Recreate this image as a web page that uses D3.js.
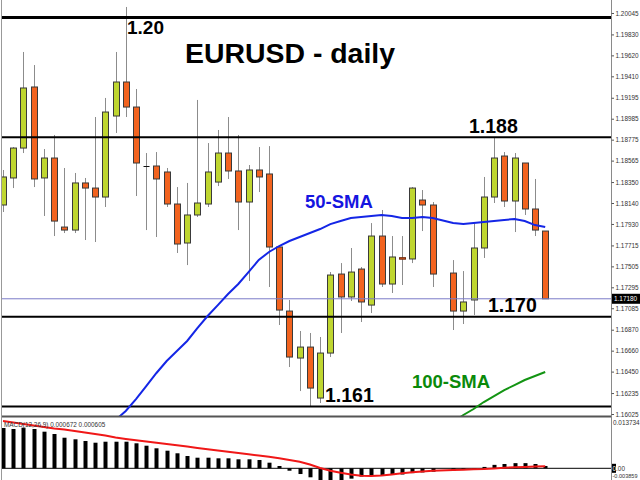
<!DOCTYPE html>
<html><head><meta charset="utf-8">
<script src="https://cdn.jsdelivr.net/npm/d3@7/dist/d3.min.js"></script>
<style>html,body{margin:0;padding:0;background:#fff;}svg{display:block;}</style>
</head><body><svg id="c" width="640" height="480"></svg>
<script>
// ---------- DATA (index = daily bar slot; slot 43 is empty) ----------
const openP  = [1.18120,1.18391,1.18691,1.19303,1.18391,1.18591,1.17899,1.17869,1.18341,1.18290,1.18200,1.19012,1.19353,1.19102,1.18511,1.18511,1.18451,1.18130,1.17739,1.18020,1.18130,1.18350,1.18641,1.18461,1.18150,1.18471,1.18431,1.17699,1.17057,1.16586,1.16696,1.16185,1.16636,1.17428,1.17198,1.17478,1.17117,1.17809,1.17328,1.17592,1.17579,1.18170,1.18120,null,1.17438,1.17057,1.17168,1.17689,1.18200,1.18611,1.18160,1.18541,1.18080,1.17859];
const highP  = [1.18471,1.18701,1.19654,1.19523,1.18681,1.18822,1.18491,1.18441,1.18391,1.19002,1.19193,1.19654,1.20105,1.19283,1.18641,1.18651,1.18491,1.18300,1.18341,1.19173,1.18741,1.18872,1.19002,1.18822,1.18521,1.18701,1.18711,1.17719,1.17168,1.16857,1.16837,1.16797,1.17448,1.17538,1.17689,1.17498,1.17939,1.18070,1.17809,1.17809,1.18300,1.18270,1.18150,null,1.17568,1.17458,1.17939,1.18401,1.18792,1.18651,1.18641,1.18541,1.18381,1.17859];
const lowP   = [1.18050,1.18290,1.18641,1.18300,1.18010,1.17809,1.17839,1.17839,1.17769,1.17749,1.18100,1.18842,1.19002,1.18210,1.17869,1.17799,1.18100,1.17639,1.17518,1.18000,1.18100,1.18310,1.18381,1.17869,1.17358,1.18250,1.17298,1.16917,1.16496,1.16255,1.16105,1.16135,1.16596,1.16837,1.17158,1.16947,1.17037,1.17298,1.17238,1.17318,1.17538,1.17859,1.17298,null,1.16867,1.16927,1.17017,1.17589,1.18140,1.18100,1.17849,1.18020,1.17809,1.17180];
const closeP = [1.18401,1.18691,1.19293,1.18381,1.18591,1.17959,1.17869,1.18341,1.18290,1.18200,1.19052,1.19353,1.19102,1.18541,1.18511,1.18381,1.18130,1.17729,1.18020,1.18140,1.18451,1.18641,1.18461,1.18150,1.18471,1.18401,1.17699,1.17067,1.16596,1.16696,1.16285,1.16636,1.17418,1.17198,1.17448,1.17148,1.17809,1.17328,1.17599,1.17586,1.18290,1.18120,1.17428,null,1.17057,1.17148,1.17689,1.18200,1.18591,1.18160,1.18591,1.18080,1.17869,1.17180];

const sma50 = [null,null,null,null,null,null,null,null,null,null,
  1.15844,1.15965,1.16055,1.16175,1.16305,1.16436,1.16556,1.16656,1.16757,1.16887,
  1.17007,1.17117,1.17228,1.17328,1.17448,1.17569,1.17649,1.17709,1.17759,1.17799,
  1.17839,1.17879,1.17929,1.17960,1.17990,1.18000,1.18010,1.18020,1.18010,1.17990,
  1.17990,1.18000,1.17990,null,1.17939,1.17929,1.17939,1.17949,1.17960,1.17970,
  1.17980,1.17960,1.17919,1.17899];
const sma100 = [null,null,null,null,null,null,null,null,null,null,
  null,null,null,null,null,null,null,null,null,null,
  null,null,null,null,null,null,null,null,null,null,
  null,null,null,null,null,null,null,null,null,null,
  null,null,null,null,1.15944,1.16015,1.16075,1.16145,1.16205,1.16265,
  1.16315,1.16366,1.16406,1.16446];

const macdHist = [0.01170,0.01141,0.01179,0.01141,0.01063,0.00996,0.00888,0.00842,0.00793,0.00743,
  0.00772,0.00772,0.00772,0.00726,0.00656,0.00581,0.00511,0.00436,0.00357,0.00308,
  0.00308,0.00290,0.00290,0.00261,0.00261,0.00241,0.00163,0.00067,-0.00070,-0.00166,
  -0.00261,-0.00340,-0.003859,-0.00350,-0.00300,-0.00240,-0.00210,-0.00200,-0.00190,-0.00180,
  -0.00140,-0.00120,-0.00100,null,-0.00070,-0.00040,-0.00020,0.00040,0.00100,0.00125,
  0.00150,0.00150,0.00125,0.000672];
const macdSignal = [0.013734,0.01330,0.01286,0.01243,0.01199,0.01156,0.01127,0.01083,0.01040,0.00996,
  0.00952,0.00894,0.00851,0.00813,0.00778,0.00740,0.00706,0.00668,0.00630,0.00589,
  0.00552,0.00517,0.00479,0.00444,0.00407,0.00372,0.00337,0.00293,0.00241,0.00192,
  0.00110,0.00009,-0.00073,-0.00128,-0.00180,-0.00218,-0.00224,-0.00209,-0.00180,-0.00145,
  -0.00116,-0.00093,-0.00073,null,-0.00049,-0.00041,-0.00029,-0.00020,-0.00003,0.00017,
  0.00029,0.00038,0.00049,0.000605];

const priceTicks = [1.20045,1.19830,1.19620,1.19410,1.19195,1.18985,1.18775,1.18565,1.18350,1.18140,
  1.17930,1.17715,1.17505,1.17295,1.17085,1.16870,1.16660,1.16450,1.16235,1.16025];
const macdTicks = [0.013734, 0, -0.003859];
const levels = [1.2000, 1.1880, 1.1700, 1.1610];
const levelLabels = ["1.20", "1.188", "1.170", "1.161"];
const currentPrice = 1.17180;
const title = "EURUSD - daily";
const macdLabel = "MACD(12,26,9) 0.000672 0.000605";

// ---------- CHART ----------
const svg = d3.select("#c");
const FONT = "'Liberation Sans', Arial, sans-serif";
const x = d3.scaleLinear().domain([0, 53]).range([3, 545.2]);
const y = d3.scaleLinear().domain([1.16005, 1.20175]).range([416, 0]);
const ym = d3.scaleLinear().domain([-0.003859, 0.013734]).range([481.6, 421]);
const AX = 611;

const defs = svg.append("defs");
defs.append("clipPath").attr("id","mainClip").append("rect").attr("x",2).attr("y",0).attr("width",AX-2).attr("height",416);
defs.append("clipPath").attr("id","macdClip").append("rect").attr("x",2).attr("y",418).attr("width",AX-2).attr("height",62);

const main = svg.append("g").attr("clip-path","url(#mainClip)");
const idx = d3.range(openP.length).filter(i => openP[i] != null);
const green = "#bfd630", orange = "#f2631f";

// candles
const cg = main.append("g");
idx.forEach(i => {
  const cx = Math.round(x(i));
  cg.append("line").attr("x1",cx+0.5).attr("x2",cx+0.5)
    .attr("y1",y(highP[i])).attr("y2",y(lowP[i]))
    .attr("stroke","#8c8c8c").attr("stroke-width",1);
  const o = openP[i], c = closeP[i];
  if (o === c) {
    cg.append("line").attr("x1",cx-2.5).attr("x2",cx+3.5)
      .attr("y1",Math.round(y(o))+0.5).attr("y2",Math.round(y(o))+0.5)
      .attr("stroke","#111").attr("stroke-width",1);
  } else {
    const top = y(Math.max(o,c)), bot = y(Math.min(o,c));
    cg.append("rect").attr("x",cx-2.5).attr("y",top)
      .attr("width",6).attr("height",Math.max(1.5, bot-top))
      .attr("fill", c > o ? green : orange)
      .attr("stroke", (Math.abs(bot-top) < 2) ? "#6b2a10" : "#3a3a3a").attr("stroke-width",1);
  }
});

// current price line
main.append("line").attr("x1",2).attr("x2",AX)
  .attr("y1",y(currentPrice)).attr("y2",y(currentPrice))
  .attr("stroke","#7b7bc8").attr("stroke-width",1);

// level lines
levels.forEach((lv,k) => {
  main.append("line").attr("x1",2).attr("x2",AX)
    .attr("y1",y(lv)).attr("y2",y(lv))
    .attr("stroke","#000").attr("stroke-width", k===0 ? 3 : 2);
});

// SMA lines
const lineGen = arr => d3.line().x(i => x(i)).y(i => y(arr[i]))
  (d3.range(arr.length).filter(i => arr[i] != null));
main.append("path").attr("d", lineGen(sma50)).attr("fill","none")
  .attr("stroke","#1426e6").attr("stroke-width",2);
main.append("path").attr("d", lineGen(sma100)).attr("fill","none")
  .attr("stroke","#139413").attr("stroke-width",2);

// texts
const txt = (s, tx, ty, size, color) => svg.append("text").attr("x",tx).attr("y",ty)
  .attr("font-family",FONT).attr("font-weight","bold").attr("font-size",size)
  .attr("fill",color).text(s);
txt(title, 185, 63, 27, "#000").attr("textLength",210).attr("lengthAdjust","spacingAndGlyphs");
txt(levelLabels[0], 127, 34, 19, "#000");
txt(levelLabels[1], 469, 133, 19.5, "#000");
txt(levelLabels[2], 488, 312, 19.5, "#000");
txt(levelLabels[3], 325, 402, 19.5, "#000");
txt("50-SMA", 305, 208, 18.5, "#1515e0");
txt("100-SMA", 412, 388, 18.5, "#0a8a0a");

// panel borders
svg.append("line").attr("x1",2).attr("x2",AX).attr("y1",416.5).attr("y2",416.5)
  .attr("stroke","#555").attr("stroke-width",2);
svg.append("line").attr("x1",1.5).attr("x2",1.5).attr("y1",0).attr("y2",480)
  .attr("stroke","#999").attr("stroke-width",1);
svg.append("line").attr("x1",AX+0.5).attr("x2",AX+0.5).attr("y1",0).attr("y2",480)
  .attr("stroke","#8a8a8a").attr("stroke-width",1);

// price axis
const pax = svg.append("g").attr("transform",`translate(${AX+0.5},0)`)
  .call(d3.axisRight(y).tickValues(priceTicks).tickSize(2.5).tickPadding(1.5).tickFormat(d3.format(".5f")));
pax.select(".domain").remove();
pax.selectAll("line").attr("stroke","#555");
pax.selectAll("text").attr("font-family",FONT).attr("font-size",6.4).attr("fill","#333");

// current price box
svg.append("rect").attr("x",AX+1).attr("y",y(currentPrice)-5).attr("width",29).attr("height",10).attr("fill","#000");
svg.append("text").attr("x",AX+3).attr("y",y(currentPrice)+2.4)
  .attr("font-family",FONT).attr("font-size",6.4).attr("fill","#fff").text(currentPrice.toFixed(5));

// MACD panel
const mg = svg.append("g").attr("clip-path","url(#macdClip)");
mg.append("line").attr("x1",2).attr("x2",AX).attr("y1",ym(0)).attr("y2",ym(0))
  .attr("stroke","#000").attr("stroke-width",1);
idx.forEach(i => {
  const v = macdHist[i];
  const t = ym(Math.max(v,0)), b = ym(Math.min(v,0));
  mg.append("rect").attr("x",Math.round(x(i))-1.5).attr("y",t)
    .attr("width",4).attr("height",Math.max(0.5,b-t)).attr("fill","#000");
});
mg.append("path").attr("d", d3.line().x(i => x(i)).y(i => ym(macdSignal[i]))
    (d3.range(macdSignal.length).filter(i => macdSignal[i] != null)))
  .attr("fill","none").attr("stroke","#f01818").attr("stroke-width",2);
svg.append("text").attr("x",4).attr("y",426.5).attr("font-family",FONT).attr("font-size",6.4)
  .attr("fill","#333").text(macdLabel);

// MACD axis labels
const mfmt = v => v === 0 ? "0.00" : v.toFixed(6);
macdTicks.forEach(v => {
  let ty = ym(v) + 2.3;
  if (v > 0) ty = ym(v) + 3.5;
  if (v < 0) ty = 478;
  if (v === 0) {
    svg.append("rect").attr("x",AX+1).attr("y",ym(0)-4.5).attr("width",4).attr("height",9).attr("fill","#000");
    const t = svg.append("text").attr("x",AX+1.5).attr("y",ty).attr("font-family",FONT).attr("font-size",6.4);
    t.append("tspan").attr("fill","#fff").text("0");
    t.append("tspan").attr("fill","#333").text(".00");
  } else if (v < 0) {
    svg.append("text").attr("x",AX+1.5).attr("y",ty).attr("font-family",FONT)
      .attr("font-size",6).attr("fill","#333")
      .attr("textLength",25).attr("lengthAdjust","spacingAndGlyphs").text(mfmt(v));
  } else {
    svg.append("text").attr("x",AX+2).attr("y",ty).attr("font-family",FONT)
      .attr("font-size",6.4).attr("fill","#333").text(mfmt(v));
  }
});
</script></body></html>
